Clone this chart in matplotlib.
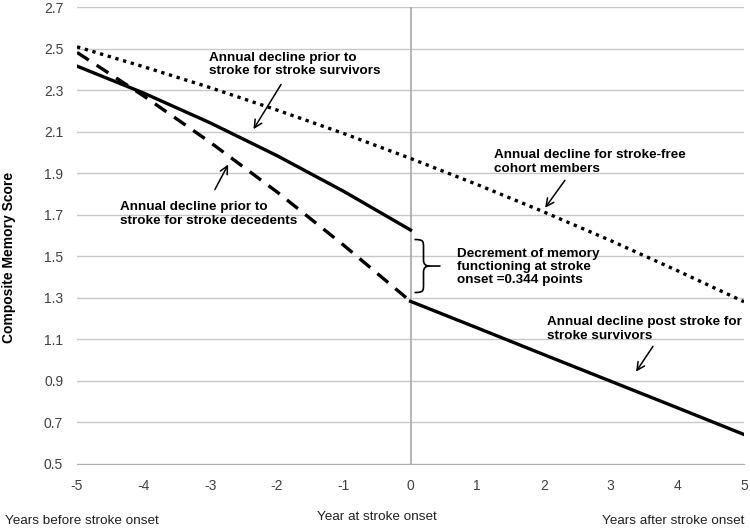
import matplotlib
matplotlib.use("Agg")
import matplotlib.pyplot as plt
from matplotlib.path import Path
from matplotlib.patches import PathPatch

plt.rcParams['font.family'] = ['Liberation Sans', 'DejaVu Sans']

# Data
years_all = [-5, -4, -3, -2, -1, 0, 1, 2, 3, 4, 5]
stroke_free = [2.51, 2.414, 2.313, 2.205, 2.092, 1.972, 1.846, 1.714, 1.576, 1.431, 1.281]

years_pre = [-5, -4, -3, -2, -1, 0]
survivors_pre = [2.417, 2.287, 2.143, 1.985, 1.813, 1.627]
decedents_pre = [2.483, 2.273, 2.049, 1.81, 1.553, 1.283]

years_post = [0, 1, 2, 3, 4, 5]
survivors_post = [1.283, 1.155, 1.026, 0.898, 0.77, 0.641]

y_ticks = [0.5, 0.7, 0.9, 1.1, 1.3, 1.5, 1.7, 1.9, 2.1, 2.3, 2.5, 2.7]
x_ticks = [-5, -4, -3, -2, -1, 0, 1, 2, 3, 4, 5]

fig = plt.figure(figsize=(7.5, 5.3), dpi=100)
ax = fig.add_axes([0.1027, 0.125, 0.8893, 0.861])

ax.set_xlim(-5, 5)
ax.set_ylim(0.5, 2.7)
ax.set_yticks(y_ticks)
ax.set_yticklabels([f"{v:.1f}" for v in y_ticks])
ax.set_xticks(x_ticks)
ax.set_xticklabels([str(v) for v in x_ticks])
ax.tick_params(length=0, labelsize=10, labelcolor='#404040', pad=10)
ax.tick_params(axis='x', pad=11)
ax.grid(axis='y', color='#c8c8c8', linewidth=1.0)
ax.set_axisbelow(True)
for s in ['top', 'right', 'left']:
    ax.spines[s].set_visible(False)
ax.spines['bottom'].set_color('#b0b0b0')
ax.axvline(0, color='#a8a8a8', linewidth=1.2, zorder=1)

ax.plot(years_all, stroke_free, color='black', linewidth=2.4, linestyle=(0, (1, 1.4)), zorder=3)
ax.plot(years_pre, decedents_pre, color='black', linewidth=2.4, linestyle=(0, (4.2, 2.8)), zorder=3)
ax.plot(years_pre, survivors_pre, color='black', linewidth=2.4, zorder=4)
ax.plot(years_post, survivors_post, color='black', linewidth=2.4, zorder=4)

fig.text(0.012, 0.515, 'Composite Memory Score', rotation=90, fontsize=10,
         fontweight='bold', ha='center', va='center')

# annotations (pixel -> data helpers)
def dx(px):
    return (px - 410) / 66.7

def dy(py):
    return 2.7 - (py - 7.3) / 207.5

tkw = dict(fontsize=9.7, fontweight='bold', ha='left', va='center', linespacing=1.15)
akw = dict(arrowstyle='->', color='black', lw=1.1, mutation_scale=14)

ax.text(dx(208), dy(64.5), 'Annual decline prior to\nstroke for stroke survivors', **tkw)
ax.annotate('', xy=(dx(251.5), dy(131.5)), xytext=(dx(282), dy(82)), arrowprops=akw)

ax.text(dx(119), dy(214), 'Annual decline prior to\nstroke for stroke decedents', **tkw)
ax.annotate('', xy=(dx(229), dy(162)), xytext=(dx(213), dy(192)), arrowprops=akw)

ax.text(dx(493), dy(162), 'Annual decline for stroke-free\ncohort members', **tkw)
ax.annotate('', xy=(dx(543), dy(210)), xytext=(dx(566), dy(178)), arrowprops=akw)

ax.text(dx(456), dy(267), 'Decrement of memory\nfunctioning at stroke\nonset =0.344 points', **tkw)

ax.text(dx(546), dy(329), 'Annual decline post stroke for\nstroke survivors', **tkw)
ax.annotate('', xy=(dx(634), dy(374)), xytext=(dx(654), dy(344)), arrowprops=akw)

# curly brace
verts = [
    (dx(414), dy(239.5)),
    (dx(423), dy(239.5)), (dx(423), dy(241)), (dx(423), dy(248)),
    (dx(423), dy(260)),
    (dx(423), dy(264)), (dx(425), dy(266)), (dx(429), dy(266)),
    (dx(440), dy(266)),
    (dx(429), dy(266)),
    (dx(425), dy(266)), (dx(423), dy(268)), (dx(423), dy(272)),
    (dx(423), dy(284)),
    (dx(423), dy(291)), (dx(423), dy(292.5)), (dx(414), dy(292.5)),
]
codes = [Path.MOVETO,
         Path.CURVE4, Path.CURVE4, Path.CURVE4,
         Path.LINETO,
         Path.CURVE4, Path.CURVE4, Path.CURVE4,
         Path.LINETO,
         Path.MOVETO,
         Path.CURVE4, Path.CURVE4, Path.CURVE4,
         Path.LINETO,
         Path.CURVE4, Path.CURVE4, Path.CURVE4]
ax.add_patch(PathPatch(Path(verts, codes), facecolor='none', edgecolor='black', lw=1.2,
                       clip_on=False, zorder=5))

# bottom category labels
fig.text(0.007, 0.017, 'Years before stroke onset', fontsize=9.7, ha='left', va='center', color='#202020')
fig.text(0.503, 0.024, 'Year at stroke onset', fontsize=9.7, ha='center', va='center', color='#202020')
fig.text(0.993, 0.017, 'Years after stroke onset', fontsize=9.7, ha='right', va='center', color='#202020')

fig.savefig('out.png', dpi=100)
